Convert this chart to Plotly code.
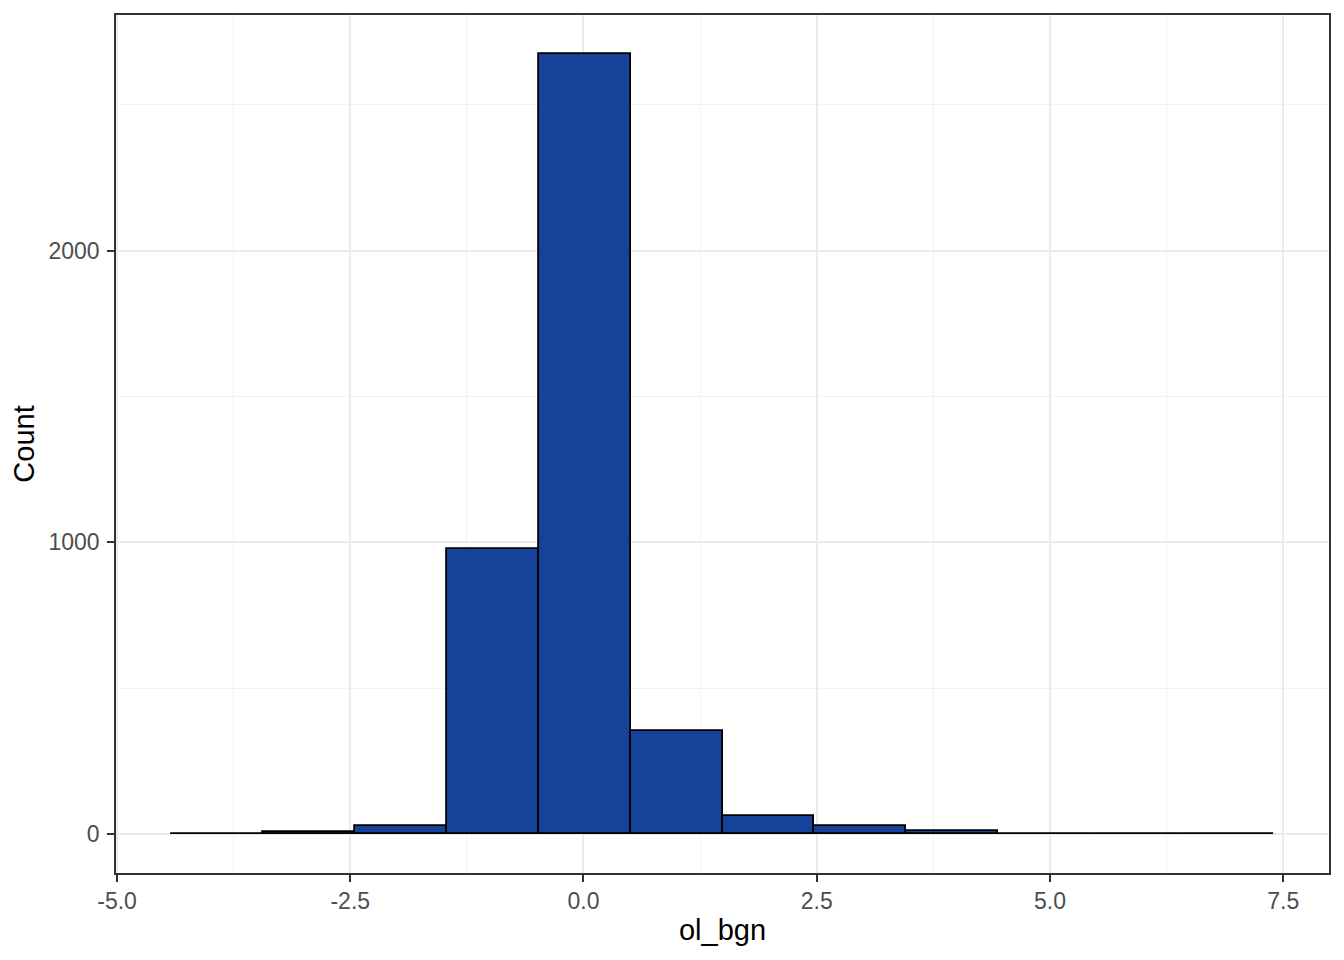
import plotly.graph_objects as go

# Histogram data (12 bins)
bin_left_edge = -4.42
bin_width = 0.985
counts = [1, 7, 27, 978, 2674, 352, 62, 27, 9, 1, 1, 1]

x_tick_vals = [-5.0, -2.5, 0.0, 2.5, 5.0, 7.5]
x_tick_text = ["-5.0", "-2.5", "0.0", "2.5", "5.0", "7.5"]
y_tick_vals = [0, 1000, 2000]
y_tick_text = ["0", "1000", "2000"]

centers = [bin_left_edge + bin_width * (i + 0.5) for i in range(len(counts))]

fig = go.Figure()
fig.add_trace(go.Bar(
    x=centers,
    y=counts,
    width=[bin_width] * len(counts),
    marker=dict(color="#174299", line=dict(color="black", width=1.8)),
    hoverinfo="x+y",
))

x_lo = bin_left_edge
x_hi = bin_left_edge + bin_width * len(counts)
xpad = (x_hi - x_lo) * 0.05
ymax = max(counts)
ypad = ymax * 0.05

font_family = "Liberation Sans, Arial, sans-serif"

# page body has an 8px default margin; size the figure to fit inside the window
fig.update_layout(
    width=1328, height=944,
    margin=dict(l=108, r=7, t=5, b=79),
    paper_bgcolor="white",
    plot_bgcolor="white",
    showlegend=False,
    bargap=0,
    font=dict(family=font_family),
)

fig.update_xaxes(
    range=[x_lo - xpad, x_hi + xpad],
    tickvals=x_tick_vals, ticktext=x_tick_text,
    ticks="outside", ticklen=7, tickwidth=1.6, tickcolor="#333333",
    tickfont=dict(size=23, color="#4D4D4D", family=font_family),
    showgrid=True, gridcolor="#EBEBEB", gridwidth=1.6,
    minor=dict(dtick=1.25, tick0=-5, showgrid=True, gridcolor="#F2F2F2", gridwidth=0.9, ticks=""),
    zeroline=False,
    showline=True, linecolor="#333333", linewidth=1.6, mirror=True,
    title=dict(text="ol_bgn", font=dict(size=29, color="black", family=font_family), standoff=6),
)
fig.update_yaxes(
    range=[-ypad, ymax + ypad],
    tickvals=y_tick_vals, ticktext=y_tick_text,
    ticks="outside", ticklen=7, tickwidth=1.6, tickcolor="#333333",
    ticklabelstandoff=3,
    tickfont=dict(size=23, color="#4D4D4D", family=font_family),
    showgrid=True, gridcolor="#EBEBEB", gridwidth=1.6,
    minor=dict(dtick=500, tick0=0, showgrid=True, gridcolor="#F2F2F2", gridwidth=0.9, ticks=""),
    zeroline=False,
    showline=True, linecolor="#333333", linewidth=1.6, mirror=True,
    title=dict(text="Count", font=dict(size=29, color="black", family=font_family), standoff=6),
)

fig.write_html("out.html")
